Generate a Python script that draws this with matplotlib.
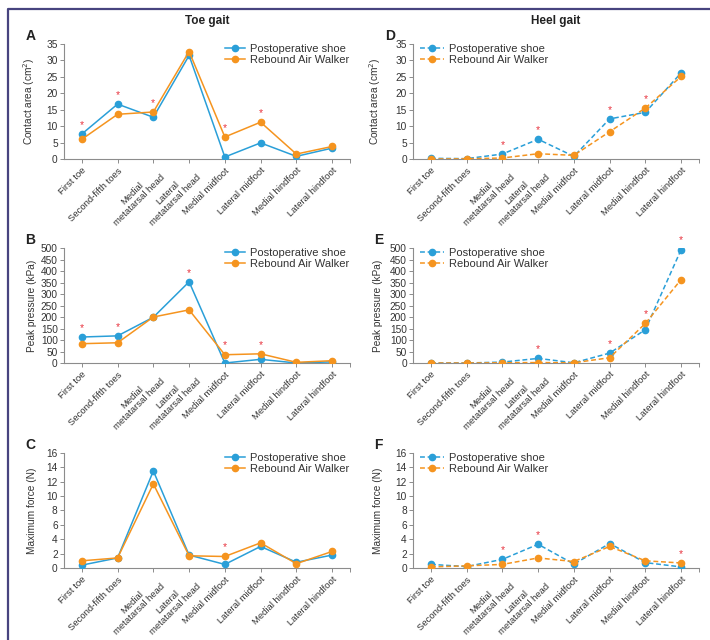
import matplotlib.pyplot as plt
import numpy as np
from matplotlib.lines import Line2D

plt.rcParams['font.family'] = ['Liberation Sans', 'DejaVu Sans']

regions = ['First toe', 'Second-fifth toes', 'Medial\nmetatarsal head',
           'Lateral\nmetatarsal head', 'Medial midfoot', 'Lateral midfoot',
           'Medial hindfoot', 'Lateral hindfoot']

# Toe gait
toe_area_post = [7.6, 16.7, 12.7, 31.5, 0.6, 4.9, 0.8, 3.3]
toe_area_raw = [6.0, 13.6, 14.3, 32.7, 6.7, 11.2, 1.5, 3.8]
toe_area_sig = [0, 1, 2, 4, 5]
toe_press_post = [113, 118, 199, 353, 0, 16, 0, 5]
toe_press_raw = [84, 88, 200, 231, 36, 40, 3, 10]
toe_press_sig = [0, 1, 3, 4, 5]
toe_force_post = [0.4, 1.4, 13.5, 1.8, 0.5, 3.0, 0.8, 1.8]
toe_force_raw = [1.0, 1.4, 11.7, 1.7, 1.6, 3.5, 0.6, 2.3]
toe_force_sig = [4]

# Heel gait
heel_area_post = [0.2, 0.1, 1.5, 6.0, 0.8, 12.2, 14.2, 26.2]
heel_area_raw = [0.0, 0.05, 0.3, 1.6, 1.1, 8.3, 15.5, 25.1]
heel_area_sig = [2, 3, 5, 6]
heel_press_post = [0, 0, 4, 20, 1, 43, 145, 493]
heel_press_raw = [0, 0, 1, 2, 1, 23, 172, 363]
heel_press_sig = [3, 5, 6, 7]
heel_force_post = [0.5, 0.2, 1.2, 3.3, 0.55, 3.4, 0.75, 0.15]
heel_force_raw = [0.15, 0.3, 0.5, 1.4, 0.9, 3.0, 1.0, 0.7]
heel_force_sig = [2, 3, 7]

BLUE = '#2a9fd8'
ORANGE = '#f5941f'
STAR = '#e8343f'
AXIS = '#8c8c8c'

fig = plt.figure(figsize=(7.1, 6.4), dpi=100)

# frame around the figure
fig.add_artist(Line2D([8 / 710, 8 / 710, 1.0], [0.0, 1 - 9 / 640, 1 - 9 / 640],
                      transform=fig.transFigure, color='#47447f', lw=1.6))


def draw_panel(rect, post, raw, sig, ymax, ystep, ylabel, letter, dashed, letter_x):
    ax = fig.add_axes(rect)
    x = np.arange(len(regions))
    ls = (0, (3.2, 1.8)) if dashed else '-'
    ax.plot(x, post, ls=ls, color=BLUE, lw=1.1, marker='o', ms=4.5,
            label='Postoperative shoe', zorder=3)
    ax.plot(x, raw, ls=ls, color=ORANGE, lw=1.1, marker='o', ms=4.5,
            label='Rebound Air Walker', zorder=3)
    for i in sig:
        top = max(post[i], raw[i])
        ax.annotate('*', (i, top), xytext=(0, 3), textcoords='offset points',
                    ha='center', va='bottom', color=STAR, fontsize=7.5)
    ax.set_xlim(-0.5, 7.5)
    ax.set_ylim(0, ymax)
    ax.set_yticks(np.arange(0, ymax + ystep / 2, ystep))
    ax.set_xticks(x)
    ax.set_xticklabels(regions, rotation=45, ha='right', rotation_mode='anchor',
                       fontsize=6.8, color='#333333', multialignment='center')
    ax.set_xticks([7.5], minor=True)
    ax.tick_params(axis='both', which='both', direction='out', length=3,
                   width=0.7, color=AXIS, labelcolor='#333333', pad=2)
    ax.tick_params(axis='y', labelsize=7.3, pad=1.5)
    ax.tick_params(axis='x', labelsize=6.8)
    ax.spines['top'].set_visible(False)
    ax.spines['right'].set_visible(False)
    for s in ('left', 'bottom'):
        ax.spines[s].set_color(AXIS)
        ax.spines[s].set_linewidth(0.8)
    ax.set_ylabel(ylabel, fontsize=7.3, color='#333333')
    ax.yaxis.set_label_coords(-0.105 if dashed else -0.094, 0.5)
    if dashed:
        ax.legend(loc='upper left', bbox_to_anchor=(0.0, 1.06), frameon=False,
                  fontsize=8, handlelength=2.2, handletextpad=0.4, labelspacing=0.1,
                  borderaxespad=0.2, labelcolor='#333333')
    else:
        ax.legend(loc='upper right', bbox_to_anchor=(1.02, 1.06), frameon=False,
                  fontsize=8, handlelength=1.8, handletextpad=0.4, labelspacing=0.1,
                  borderaxespad=0.2, labelcolor='#333333')
    fig.text(letter_x, rect[1] + rect[3] + 0.012, letter, fontsize=10,
             fontweight='bold', ha='left', va='center', color='#222222')
    return ax


lx, rx, w, h = 0.0901, 0.5817, 0.4028, 0.1797
rows = [0.7516, 0.4328, 0.1125]

draw_panel([lx, rows[0], w, h], toe_area_post, toe_area_raw, toe_area_sig, 35, 5,
           'Contact area (cm$^2$)', 'A', False, 0.036)
draw_panel([lx, rows[1], w, h], toe_press_post, toe_press_raw, toe_press_sig, 500, 50,
           'Peak pressure (kPa)', 'B', False, 0.036)
draw_panel([lx, rows[2], w, h], toe_force_post, toe_force_raw, toe_force_sig, 16, 2,
           'Maximum force (N)', 'C', False, 0.036)
draw_panel([rx, rows[0], w, h], heel_area_post, heel_area_raw, heel_area_sig, 35, 5,
           'Contact area (cm$^2$)', 'D', True, 0.543)
draw_panel([rx, rows[1], w, h], heel_press_post, heel_press_raw, heel_press_sig, 500, 50,
           'Peak pressure (kPa)', 'E', True, 0.527)
draw_panel([rx, rows[2], w, h], heel_force_post, heel_force_raw, heel_force_sig, 16, 2,
           'Maximum force (N)', 'F', True, 0.527)

fig.text(lx + w / 2, 1 - 21 / 640, 'Toe gait', fontsize=8.5, fontweight='bold',
         ha='center', va='center', color='#222222')
fig.text(rx + w / 2, 1 - 21 / 640, 'Heel gait', fontsize=8.5, fontweight='bold',
         ha='center', va='center', color='#222222')

fig.savefig('out.png', dpi=100)
